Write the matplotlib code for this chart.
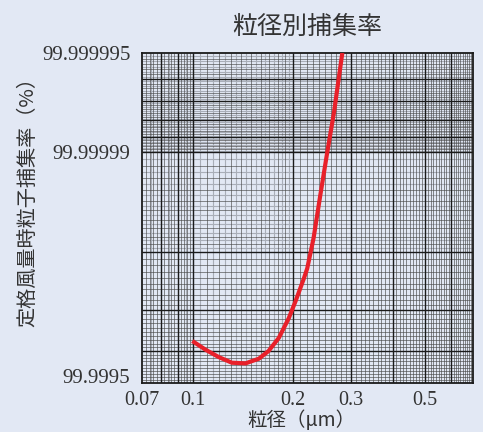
import numpy as np
import matplotlib
matplotlib.use("Agg")
import matplotlib.pyplot as plt
from matplotlib.scale import FuncScale

# particle size (um) vs collection efficiency (%)
size_um = [0.0996, 0.109, 0.1195, 0.131, 0.144, 0.158, 0.169, 0.1815, 0.1945,
           0.204, 0.216, 0.221, 0.231, 0.242, 0.254, 0.266, 0.282]
efficiency = [99.9999627, 99.9999604, 99.9999583, 99.9999566, 99.9999564,
              99.9999578, 99.99996, 99.9999635, 99.9999682, 99.9999718,
              99.9999759, 99.9999775, 99.9999818, 99.9999865,
              99.99999, 99.9999924, 99.999995]

x_ticks = [0.07, 0.1, 0.2, 0.3, 0.5]
x_ticklabels = ["0.07", "0.1", "0.2", "0.3", "0.5"]
y_ticks = [99.999995, 99.99999, 99.99995]
y_ticklabels = ["99.999995", "99.99999", "99.9995"]

title = "粒径別捕集率"
xlabel = "粒径（μm）"
ylabel = "定格風量時粒子捕集率（%）"

bg = "#e2e8f4"
ink = "#333333"
cjk = ["Noto Sans CJK JP", "DejaVu Sans"]


def fwd(e):
    # efficiency -> -log10(penetration)
    e = np.asarray(e, dtype=float)
    with np.errstate(divide="ignore", invalid="ignore"):
        return -np.log10(np.clip(100.0 - e, 1e-12, None))


def inv(y):
    return 100.0 - 10.0 ** (-np.asarray(y, dtype=float))


fig = plt.figure(figsize=(4.83, 4.32), dpi=100, facecolor=bg)
ax = fig.add_axes([0.293, 0.1134, 0.687, 0.764], facecolor=bg)
ax.set_xscale("log")
ax.set_yscale(FuncScale(ax.yaxis, (fwd, inv)))
ax.set_xlim(0.07, 0.7)
ax.set_ylim(99.99995, 99.999995)


# graph paper: penetration in units of 1e-5 %
def pen(p):
    return 100.0 - np.asarray(p) * 1e-5


ghost_x = np.concatenate([np.arange(0.075, 0.1, 0.005), np.arange(0.105, 0.2, 0.01)])
thin_x = np.concatenate([np.arange(0.072, 0.1, 0.002), np.arange(0.11, 0.7, 0.01)])
heavy_x = [0.08, 0.09, 0.1, 0.2, 0.3, 0.4, 0.5, 0.6]
ghost_p = np.concatenate([np.arange(0.51, 1.0, 0.02), np.arange(1.05, 2.0, 0.1)])
thin_p = np.concatenate([np.arange(0.52, 1.0, 0.02), np.arange(1.1, 5.0, 0.1)])
heavy_p = [0.6, 0.7, 0.8, 0.9, 1, 2, 3, 4]

xt = ax.get_xaxis_transform()
yt = ax.get_yaxis_transform()
ax.vlines(ghost_x, 0, 1, transform=xt, color="#a9aeb8", lw=0.8, zorder=1)
ax.hlines(pen(ghost_p), 0, 1, transform=yt, color="#a9aeb8", lw=0.8, zorder=1)
ax.vlines(thin_x, 0, 1, transform=xt, color="#4a4a4a", lw=0.45, zorder=2)
ax.hlines(pen(thin_p), 0, 1, transform=yt, color="#4a4a4a", lw=0.45, zorder=2)
ax.vlines(heavy_x, 0, 1, transform=xt, color="#1a1a1a", lw=1.0, zorder=3)
ax.hlines(pen(heavy_p), 0, 1, transform=yt, color="#1a1a1a", lw=1.0, zorder=3)

ax.plot(size_um, efficiency, color="#e8202a", lw=3.0, solid_capstyle="butt",
        solid_joinstyle="round", zorder=5)

for s in ax.spines.values():
    s.set_color("#1a1a1a")
    s.set_linewidth(1.3)
    s.set_zorder(4)

ax.set_xticks(x_ticks, x_ticklabels)
ax.set_yticks(y_ticks, y_ticklabels)
ax.xaxis.set_minor_locator(plt.NullLocator())
ax.yaxis.set_minor_locator(plt.NullLocator())
ax.tick_params(length=0, colors=ink)
ax.tick_params(axis="x", pad=6)
ax.tick_params(axis="y", pad=8)
for lab in ax.get_xticklabels():
    lab.set_fontfamily("Liberation Serif")
    lab.set_fontsize(14.5)
for lab in ax.get_yticklabels():
    lab.set_fontfamily("Liberation Serif")
    lab.set_fontsize(15)
ax.get_yticklabels()[-1].set_va("baseline")

ax.set_title(title, family=cjk, fontsize=18, color=ink, pad=14)
ax.set_xlabel(xlabel, family=cjk, fontsize=14, color=ink)
ax.xaxis.set_label_coords(0.482, -0.082)
ax.set_ylabel(ylabel, family=cjk, fontsize=14.5, color=ink)
ax.yaxis.set_label_coords(-0.31, 0.564)

fig.savefig("out.png", dpi=100, facecolor=bg)
